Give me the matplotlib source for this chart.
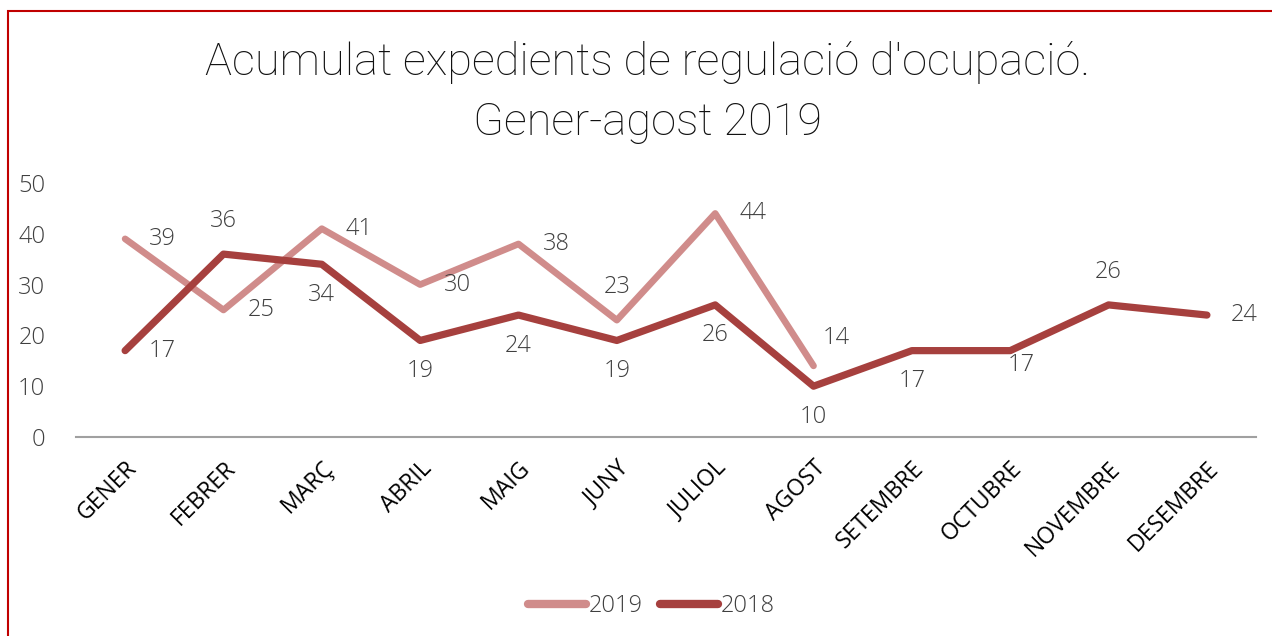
import matplotlib.pyplot as plt
from matplotlib.patches import Rectangle

meses = ["GENER", "FEBRER", "MARÇ", "ABRIL", "MAIG", "JUNY", "JULIOL",
         "AGOST", "SETEMBRE", "OCTUBRE", "NOVEMBRE", "DESEMBRE"]
v2019 = [39, 25, 41, 30, 38, 23, 44, 14]
v2018 = [17, 36, 34, 19, 24, 19, 26, 10, 17, 17, 26, 24]

# posicion de las etiquetas (r = derecha, a = arriba, b = abajo)
pos2019 = ["r", "r", "r", "r", "r", "a", "r", "ar"]
pos2018 = ["r", "a", "b", "b", "b", "b", "b", "b", "b", "br", "a", "r"]

col2019 = "#D08C8B"
col2018 = "#A6403E"

plt.rcParams['font.family'] = ['Open Sans', 'DejaVu Sans']

fig = plt.figure(figsize=(12.72, 6.36), dpi=100)
ax = fig.add_axes([0.0597, 0.3129, 0.9278, 0.3994])

x = list(range(len(meses)))
ax.plot(x[:len(v2019)], v2019, color=col2019, lw=4.8, solid_capstyle='round', label="2019")
ax.plot(x, v2018, color=col2018, lw=5.2, solid_capstyle='round', label="2018")

desp = {"r": (27, 0), "a": (0, 24), "b": (0, -22), "ar": (16, 20), "br": (8, -10)}

def etiquetas(vals, pos):
	for i, v in enumerate(vals):
		dx, dy = desp[pos[i]]
		ax.annotate(str(v), (i, v), xytext=(dx, dy), textcoords='offset points',
					ha='center', va='center', fontsize=17, color='#404040',
					fontweight='light')

etiquetas(v2019, pos2019)
etiquetas(v2018, pos2018)

ax.set_xlim(-0.5, len(meses) - 0.5)
ax.set_ylim(0, 50)
ax.set_yticks(range(0, 51, 10))
ax.set_xticks(x)
ax.set_xticklabels(meses, rotation=45, ha='right', rotation_mode='anchor', fontsize=16.5)
ax.tick_params(axis='y', length=0, labelsize=17, labelcolor='#404040', pad=22)
ax.tick_params(axis='x', length=0, pad=14)
for t in ax.get_yticklabels():
	t.set_fontweight('light')
for s in ['top', 'right', 'left']:
	ax.spines[s].set_visible(False)
ax.spines['bottom'].set_color('#A0A0A0')
ax.spines['bottom'].set_linewidth(1.5)

fig.suptitle("Acumulat expedients de regulació d'ocupació.\nGener-agost 2019",
			 x=0.509, y=0.935, fontsize=32.5, fontfamily='Roboto', fontweight='light',
			 color='#111111', linespacing=1.5)

leg = fig.legend(loc='lower center', bbox_to_anchor=(0.512, -0.005), ncol=2, frameon=False,
				 fontsize=17, handlelength=2.45, handletextpad=0.1, columnspacing=0.75,
				 labelcolor='#404040')
for t in leg.get_texts():
	t.set_fontweight('light')
for l in leg.get_lines():
	l.set_linewidth(6)

fig.patches.append(Rectangle((8 / 1272, -0.1), 1.2, 1.1 - 11 / 636, transform=fig.transFigure,
							 fill=False, edgecolor='#C00000', lw=1.5))

fig.savefig("out.png", dpi=100)
